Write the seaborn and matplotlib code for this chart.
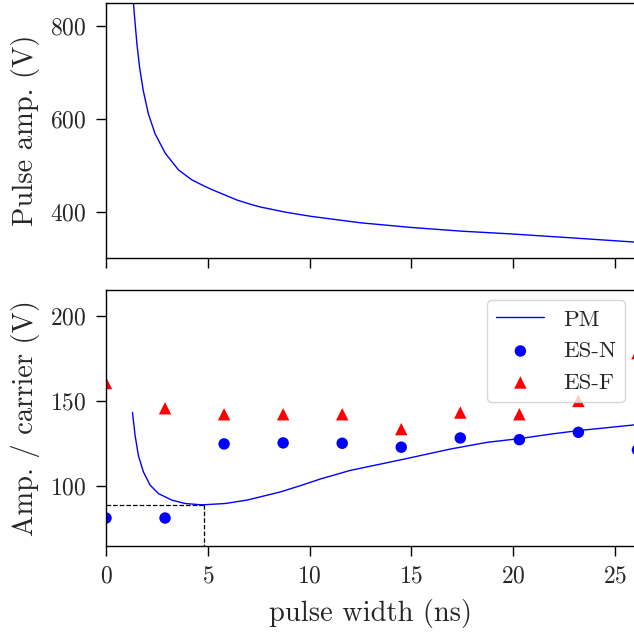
import numpy as np
import pandas as pd
import matplotlib
matplotlib.use("Agg")
import matplotlib.pyplot as plt
import seaborn as sns

# ---- data ----
amp_x = [1.25, 1.34, 1.42, 1.52, 1.65, 1.83, 2.08, 2.41, 2.91, 3.56, 4.22, 4.88,
         5.29, 6.44, 7.09, 7.59, 8.8, 10.05, 12.5, 14.98, 17.44, 19.9, 22.7, 25.98, 26.5]
amp_y = [910, 853, 811, 761, 711, 661, 611, 568, 526, 490, 468.5, 454,
         446, 425, 416, 410, 399, 390, 376, 366, 358, 352, 344, 334.4, 333]

pm_x = [1.30, 1.43, 1.59, 1.84, 2.17, 2.58, 3.23, 3.89, 4.71, 5.86, 6.93, 8.57,
        9.56, 10.54, 12.0, 14.48, 16.95, 18.75, 20.3, 21.87, 23.19, 25.98, 26.5]
pm_y = [143.2, 129.7, 118.0, 108.3, 100.6, 95.7, 91.9, 89.9, 89.1, 89.9, 91.9, 96.7,
        100.4, 104.3, 109.3, 115.5, 121.9, 125.8, 127.9, 130.6, 132.6, 136.0, 136.5]

es_x = [0.0, 2.9, 5.8, 8.7, 11.6, 14.5, 17.4, 20.3, 23.2, 26.1]
esn_y = [81.4, 81.4, 124.8, 125.4, 125.2, 122.9, 128.3, 127.3, 131.6, 121.3]
esf_y = [160.5, 145.7, 142.2, 142.2, 142.2, 133.5, 143.2, 142.2, 150.0, 178.0]

opt_x = 4.8
opt_y = 89.0

sns.set_theme(style="ticks")
plt.rcParams["font.family"] = "serif"
plt.rcParams["font.serif"] = ["cmr10", "DejaVu Serif"]
plt.rcParams["mathtext.fontset"] = "cm"
plt.rcParams["axes.formatter.use_mathtext"] = True
plt.rcParams["axes.unicode_minus"] = False

lab_fs = 20.5
tick_fs = 17
leg_fs = 16.5

fig = plt.figure(figsize=(6.34, 6.34), dpi=100)
ax1 = fig.add_axes([0.1672, 0.593, 0.835, 0.4023])
ax2 = fig.add_axes([0.1672, 0.1388, 0.835, 0.4038])

top_df = pd.DataFrame({"x": amp_x, "y": amp_y})
sns.lineplot(data=top_df, x="x", y="y", ax=ax1, color="blue", lw=1.0, sort=False)
ax1.set_xlim(0, 26)
ax1.set_ylim(300, 850)
ax1.set_yticks([400, 600, 800])
ax1.set_xticks([0, 5, 10, 15, 20, 25])
ax1.set_xticklabels([])
ax1.set_xlabel("")
ax1.set_ylabel("Pulse amp. (V)", fontsize=lab_fs, labelpad=7)

pm_df = pd.DataFrame({"x": pm_x, "y": pm_y})
es_df = pd.DataFrame({"x": es_x, "n": esn_y, "f": esf_y})
sns.lineplot(data=pm_df, x="x", y="y", ax=ax2, color="blue", lw=1.0, label="PM", sort=False)
sns.scatterplot(data=es_df, x="x", y="n", ax=ax2, color="blue", marker="o", s=68,
                edgecolor="none", label="ES-N", clip_on=True)
sns.scatterplot(data=es_df, x="x", y="f", ax=ax2, color="red", marker="^", s=80,
                edgecolor="none", label="ES-F", clip_on=True)
ax2.plot([0, opt_x], [opt_y, opt_y], ls="--", color="black", lw=0.9)
ax2.plot([opt_x, opt_x], [0, opt_y], ls="--", color="black", lw=0.9)
ax2.set_xlim(0, 26)
ax2.set_ylim(65, 215)
ax2.set_yticks([100, 150, 200])
ax2.set_xticks([0, 5, 10, 15, 20, 25])
ax2.set_xlabel("pulse width (ns)", fontsize=lab_fs, labelpad=8)
ax2.set_ylabel("Amp. / carrier (V)", fontsize=lab_fs, labelpad=7)
leg = ax2.legend(loc="upper right", fontsize=leg_fs, frameon=True, fancybox=True,
                 framealpha=0.8, borderpad=0.4, handlelength=2.1, borderaxespad=0.45)

for ax in (ax1, ax2):
    for sp in ax.spines.values():
        sp.set_linewidth(1.0)
        sp.set_color("black")
    ax.tick_params(axis="both", direction="out", length=7, width=1.0,
                   labelsize=tick_fs, pad=7, color="black")

fig.savefig("out.png", dpi=100)
